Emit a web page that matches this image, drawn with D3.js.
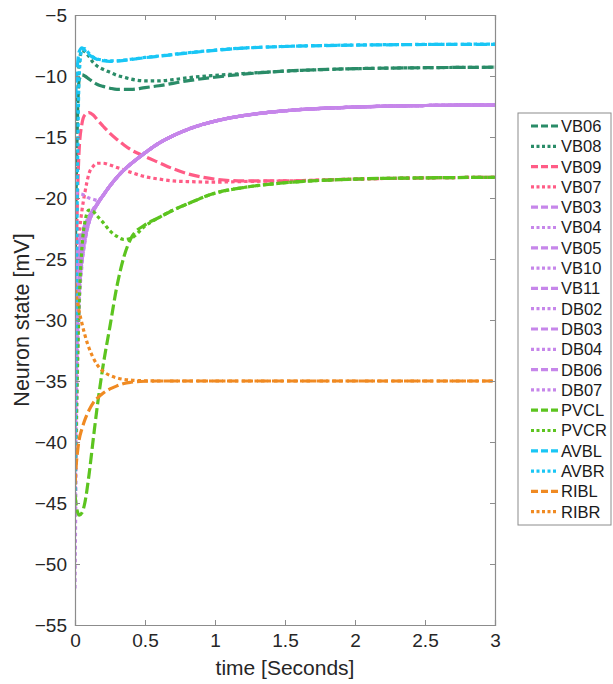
<!DOCTYPE html>
<html><head><meta charset="utf-8">
<script src="https://cdn.jsdelivr.net/npm/d3@7"></script>
<style>body{margin:0;background:#fff}svg{display:block}</style>
</head><body>
<svg id="chart" width="613" height="684"></svg>
<script>
// time grid (seconds)
const times = [0,0.01,0.02,0.03,0.05,0.07,0.1,0.13,0.16,0.2,0.25,0.3,0.35,0.4,0.5,0.6,0.7,0.8,1.0,1.2,1.5,2.0,2.5,3.0];
const VB06 = [-27,-18,-12.5,-10.3,-9.9,-10.0,-10.25,-10.5,-10.7,-10.85,-11.0,-11.1,-11.1,-11.1,-10.95,-10.8,-10.6,-10.4,-10.1,-9.85,-9.6,-9.4,-9.32,-9.28];
const VB08 = [-27,-17,-11.5,-8.9,-7.9,-8.0,-8.4,-8.9,-9.2,-9.45,-9.7,-9.95,-10.1,-10.25,-10.4,-10.4,-10.3,-10.15,-9.95,-9.8,-9.6,-9.4,-9.32,-9.28];
const VB09 = [-30,-24,-19,-16,-13.9,-13.2,-13.0,-13.2,-13.6,-14.1,-14.7,-15.2,-15.65,-16.05,-16.6,-17.1,-17.6,-18.0,-18.45,-18.6,-18.6,-18.45,-18.35,-18.3];
const VB07 = [-28,-26,-24.5,-23,-21,-19.6,-18.0,-17.4,-17.15,-17.15,-17.3,-17.5,-17.7,-17.9,-18.25,-18.45,-18.6,-18.65,-18.7,-18.65,-18.6,-18.45,-18.35,-18.3];
const VB03 = [-25,-24.5,-24,-23.5,-22.8,-22.2,-21.5,-20.9,-20.4,-19.8,-19.0,-18.3,-17.7,-17.2,-16.3,-15.5,-14.9,-14.4,-13.7,-13.25,-12.85,-12.55,-12.42,-12.38];
const VB04 = [-52,-40,-33,-29,-25.5,-23.7,-22,-21.1,-20.5,-19.8,-19.0,-18.3,-17.7,-17.2,-16.3,-15.5,-14.9,-14.4,-13.7,-13.25,-12.85,-12.55,-12.42,-12.38];
const VB05 = [-30,-28,-26.5,-25.3,-23.8,-22.8,-21.7,-21.0,-20.45,-19.8,-19.0,-18.3,-17.7,-17.2,-16.3,-15.5,-14.9,-14.4,-13.7,-13.25,-12.85,-12.55,-12.42,-12.38];
const VB10 = [-19.6,-19.6,-19.6,-19.65,-19.7,-19.8,-20.0,-20.1,-20.2,-19.8,-19.0,-18.3,-17.7,-17.2,-16.3,-15.5,-14.9,-14.4,-13.7,-13.25,-12.85,-12.55,-12.42,-12.38];
const VB11 = [-36,-32,-29,-27,-24.8,-23.3,-21.9,-21.1,-20.5,-19.8,-19.0,-18.3,-17.7,-17.2,-16.3,-15.5,-14.9,-14.4,-13.7,-13.25,-12.85,-12.55,-12.42,-12.38];
const DB02 = [-46,-37,-31.5,-28.3,-25.2,-23.5,-22.0,-21.1,-20.5,-19.8,-19.0,-18.3,-17.7,-17.2,-16.3,-15.5,-14.9,-14.4,-13.7,-13.25,-12.85,-12.55,-12.42,-12.38];
const DB03 = [-27,-26,-25,-24.3,-23.2,-22.4,-21.6,-21.0,-20.45,-19.8,-19.0,-18.3,-17.7,-17.2,-16.3,-15.5,-14.9,-14.4,-13.7,-13.25,-12.85,-12.55,-12.42,-12.38];
const DB04 = [-41,-34,-30,-27.5,-25,-23.4,-22,-21.1,-20.5,-19.8,-19.0,-18.3,-17.7,-17.2,-16.3,-15.5,-14.9,-14.4,-13.7,-13.25,-12.85,-12.55,-12.42,-12.38];
const DB06 = [-33,-30,-27.8,-26.2,-24.3,-23.1,-21.8,-21.05,-20.5,-19.8,-19.0,-18.3,-17.7,-17.2,-16.3,-15.5,-14.9,-14.4,-13.7,-13.25,-12.85,-12.55,-12.42,-12.38];
const DB07 = [-38,-33,-29.5,-27.2,-24.9,-23.4,-22.0,-21.1,-20.5,-19.8,-19.0,-18.3,-17.7,-17.2,-16.3,-15.5,-14.9,-14.4,-13.7,-13.25,-12.85,-12.55,-12.42,-12.38];
const PVCL = [-44.3,-45.3,-45.8,-46,-45.8,-45,-42.7,-39.8,-37.0,-33.8,-30.5,-27.2,-24.8,-23.3,-22.2,-21.6,-21.0,-20.5,-19.6,-19.15,-18.75,-18.45,-18.35,-18.3];
const PVCR = [-44,-38,-32.5,-28.5,-24,-22,-21.0,-21.1,-21.5,-22.0,-22.7,-23.15,-23.4,-23.3,-22.3,-21.6,-21.0,-20.5,-19.6,-19.15,-18.75,-18.45,-18.35,-18.3];
const AVBL = [-13,-10.5,-8.8,-8.0,-7.7,-7.9,-8.25,-8.5,-8.65,-8.75,-8.8,-8.78,-8.72,-8.65,-8.5,-8.38,-8.25,-8.12,-7.9,-7.72,-7.58,-7.47,-7.42,-7.4];
const AVBR = [-44,-28,-16,-10,-7.8,-7.75,-8.15,-8.45,-8.6,-8.7,-8.75,-8.75,-8.7,-8.63,-8.48,-8.36,-8.23,-8.1,-7.88,-7.71,-7.57,-7.46,-7.41,-7.39];
const RIBL = [-43.5,-41.7,-40.6,-39.8,-38.9,-38.2,-37.4,-36.8,-36.4,-36.0,-35.65,-35.4,-35.2,-35.1,-35.02,-35,-35,-35,-35,-35,-35,-35,-35,-35];
const RIBR = [-27,-28,-28.7,-29.3,-30.3,-31.2,-32.3,-33.1,-33.7,-34.2,-34.55,-34.75,-34.87,-34.93,-34.98,-35,-35,-35,-35,-35,-35,-35,-35,-35];

const names  = ["VB06","VB08","VB09","VB07","VB03","VB04","VB05","VB10","VB11","DB02","DB03","DB04","DB06","DB07","PVCL","PVCR","AVBL","AVBR","RIBL","RIBR"];
const values = [VB06,VB08,VB09,VB07,VB03,VB04,VB05,VB10,VB11,DB02,DB03,DB04,DB06,DB07,PVCL,PVCR,AVBL,AVBR,RIBL,RIBR];
const colorGroups = ["g","g","p","p","v","v","v","v","v","v","v","v","v","v","l","l","c","c","o","o"];
const xTicks = [0,0.5,1,1.5,2,2.5,3];
const yTicks = [-55,-50,-45,-40,-35,-30,-25,-20,-15,-10,-5];

const palette = {g:"#2a8c68", p:"#ff5c86", v:"#c686ea", l:"#5cc41f", c:"#19c6f5", o:"#f08a22"};
const dashed = "11,4", dotted = "3.5,3";

const svg = d3.select("#chart");
const L=75, R=495, T=15, B=625;
const x = d3.scaleLinear().domain([0,3]).range([L,R]);
const y = d3.scaleLinear().domain([-55,-5]).range([B,T]);

svg.append("clipPath").attr("id","clip").append("rect")
  .attr("x",L).attr("y",T).attr("width",R-L).attr("height",B-T);

const line = d3.line().x((d,i)=>x(times[i])).y(d=>y(d)).curve(d3.curveMonotoneX);
const g = svg.append("g").attr("clip-path","url(#clip)");
values.forEach((vals,k)=>{
  g.append("path").datum(vals).attr("d",line)
    .attr("fill","none").attr("stroke",palette[colorGroups[k]])
    .attr("stroke-width",3.2)
    .attr("stroke-dasharray", k%2===0 ? dashed : dotted);
});

// axes
const axisColor = "#8c8c8c";
const fontTick = "19px 'Liberation Sans', Arial, Helvetica, sans-serif";
const ax = svg.append("g").attr("transform",`translate(0,${B})`)
  .call(d3.axisBottom(x).tickValues(xTicks).tickSize(-5).tickPadding(9).tickFormat(d3.format("")));
const ay = svg.append("g").attr("transform",`translate(${L},0)`)
  .call(d3.axisLeft(y).tickValues(yTicks).tickSize(-5).tickPadding(8).tickFormat(d3.format("")));
const axTop = svg.append("g").attr("transform",`translate(0,${T})`)
  .call(d3.axisTop(x).tickValues(xTicks).tickSize(-5).tickFormat(""));
const ayR = svg.append("g").attr("transform",`translate(${R},0)`)
  .call(d3.axisRight(y).tickValues(yTicks).tickSize(-5).tickFormat(""));
[ax,ay,axTop,ayR].forEach(a=>{
  a.select(".domain").attr("stroke",axisColor).attr("stroke-width",1.2);
  a.selectAll(".tick line").attr("stroke",axisColor);
  a.selectAll(".tick text").style("font",fontTick).attr("fill","#262626");
});
ax.selectAll(".tick text").attr("dy","0.71em");

svg.append("text").attr("x",(L+R)/2).attr("y",675).attr("text-anchor","middle")
  .style("font","21px 'Liberation Sans', Arial, sans-serif").attr("fill","#262626").text("time [Seconds]");
svg.append("text").attr("transform",`translate(29,${(T+B)/2}) rotate(-90)`).attr("text-anchor","middle")
  .style("font","21.5px 'Liberation Sans', Arial, sans-serif").attr("fill","#262626").text("Neuron state [mV]");

// legend
const lg = svg.append("g");
lg.append("rect").attr("x",518).attr("y",113).attr("width",93).attr("height",412)
  .attr("fill","#fff").attr("stroke",axisColor).attr("stroke-width",1);
names.forEach((n,k)=>{
  const yy = 126 + k*20.3;
  lg.append("line").attr("x1",531).attr("x2",558).attr("y1",yy).attr("y2",yy)
    .attr("stroke",palette[colorGroups[k]]).attr("stroke-width",3.2)
    .attr("stroke-dasharray", k%2===0 ? "7,3" : "3,2.5");
  lg.append("text").attr("x",561).attr("y",yy).attr("dy","0.36em")
    .style("font","16.5px 'Liberation Sans', Arial, sans-serif").attr("fill","#1a1a1a").text(n);
});
</script>
</body></html>
